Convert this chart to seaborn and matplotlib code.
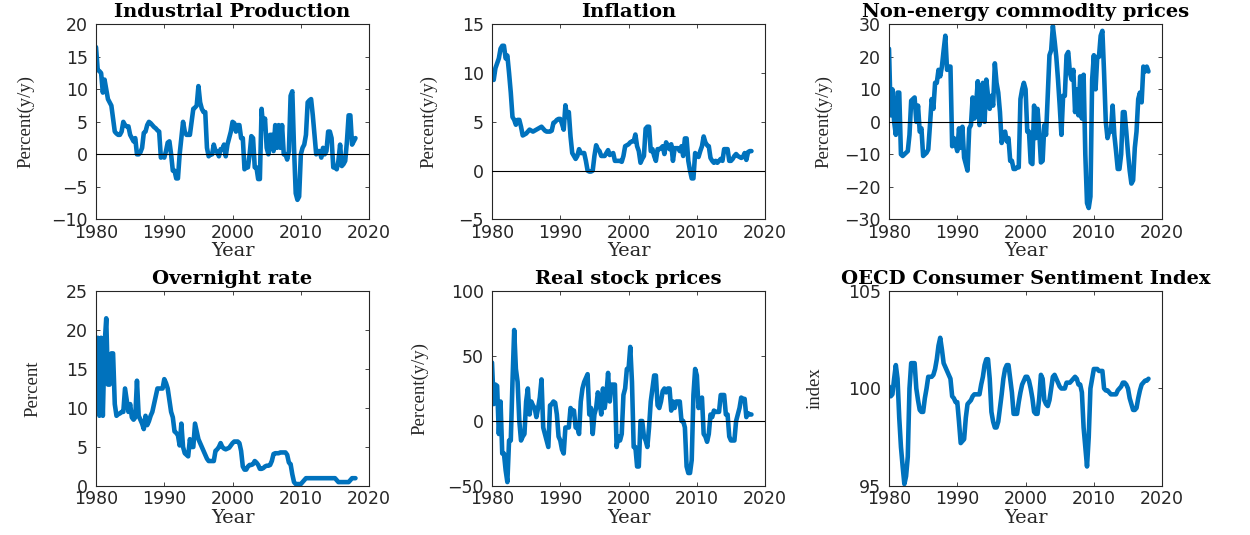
import numpy as np
import pandas as pd
import matplotlib
matplotlib.use("Agg")
import matplotlib.pyplot as plt
import seaborn as sns

# Quarterly observations, 1980Q1 through 2018Q1
start_year = 1980
periods_per_year = 4

industrial_production = [
    16.5, 13.0, 12.8, 12.5,   9.5, 11.5, 10.0, 8.5,    8.0, 7.5, 5.5, 3.5,
    3.2, 3.0, 3.0, 3.5,       5.0, 4.5, 4.3, 4.3,     3.0, 2.5, 2.0, 2.5,
    0.0, 0.0, 0.3, 1.0,       3.3, 3.5, 4.5, 5.0,     4.8, 4.5, 4.2, 4.0,
    3.7, 3.5, -0.5, -0.3,     -0.5, 0.5, 1.8, 2.0,    0.0, -2.5, -2.5, -3.7,
    -3.7, 0.0, 2.5, 5.0,      3.5, 3.0, 3.0, 3.0,     5.0, 7.0, 7.2, 7.5,
    10.5, 8.0, 7.0, 6.5,      6.5, 1.0, -0.3, 0.0,    0.0, 1.5, 0.5, 0.5,
    -0.3, 0.8, 0.8, 1.5,      -0.3, 1.5, 2.5, 3.5,    5.0, 4.8, 3.5, 4.5,
    4.5, 2.5, 2.5, -2.3,      -2.0, -2.0, 0.0, 2.8,   2.5, -2.0, -2.0, -3.8,
    -3.8, 7.0, 4.0, 5.5,      1.0, 0.0, 3.0, 3.0,     0.5, 4.5, 1.0, 4.5,
    1.0, 4.5, 0.0, 0.0,       -0.8, 0.5, 9.0, 9.7,    1.0, -6.0, -7.0, -6.5,
    0.0, 1.0, 1.5, 3.0,       8.0, 8.3, 8.5, 6.0,     3.0, 0.0, 0.5, 0.5,
    -0.5, 1.0, 0.0, 0.5,      3.5, 3.5, 2.5, -2.0,    -2.0, -2.3, -1.0, 1.5,
    -1.8, -1.5, -1.0, 2.0,    6.0, 6.0, 1.5, 2.0,     2.5,
]

inflation = [
    9.5, 9.3, 10.5, 11.0,     11.5, 12.5, 12.8, 12.8,  11.5, 11.8, 10.0, 8.0,
    5.5, 5.2, 4.7, 5.2,       5.2, 4.5, 3.6, 3.7,      3.8, 4.0, 4.2, 4.1,
    4.0, 4.1, 4.2, 4.3,       4.4, 4.5, 4.3, 4.1,      4.0, 4.0, 4.0, 4.1,
    4.9, 5.0, 5.2, 5.3,       5.3, 4.8, 4.2, 6.7,      5.5, 6.0, 3.5, 1.8,
    1.5, 1.2, 1.5, 2.2,       1.8, 1.8, 1.8, 1.0,      0.0, -0.1, -0.1, 0.0,
    1.5, 2.6, 2.2, 2.0,       1.5, 1.5, 1.5, 1.8,      2.1, 1.6, 1.7, 1.8,
    1.0, 1.0, 1.0, 1.0,       0.9, 1.5, 2.5, 2.6,      2.7, 2.9, 3.0, 3.0,
    3.7, 2.5, 2.0, 0.8,       1.2, 1.5, 4.3, 4.5,      4.5, 2.0, 2.2, 1.5,
    1.0, 2.2, 2.2, 2.3,       2.5, 1.7, 2.9, 2.5,      2.2, 2.7, 1.0, 2.3,
    2.3, 2.3, 2.0, 2.5,       1.5, 3.3, 3.3, 1.0,      0.0, -0.8, -0.8, 1.8,
    1.6, 1.4, 2.0, 2.5,       3.5, 2.9, 2.6, 2.5,      1.3, 1.0, 0.8, 1.0,
    0.8, 1.0, 1.2, 1.0,       2.2, 2.2, 2.2, 1.0,      1.0, 1.2, 1.5, 1.7,
    1.5, 1.4, 1.3, 1.4,       1.8, 1.1, 1.9, 2.0,      2.0,
]

commodity_prices = [
    22.5, 2.0, 10.0, 0.0,     -4.0, 9.0, 9.0, -10.0,   -10.5, -10.0, -9.5, -9.0,
    -4.0, 6.5, 7.0, 7.5,      0.0, 5.0, -3.0, -2.0,    -10.5, -10.0, -9.5, -8.5,
    -1.0, 7.0, 4.0, 12.0,     12.0, 16.0, 14.0, 17.0,  22.0, 26.5, 16.0, 17.0,
    17.0, -7.5, -5.0, -7.0,   -9.0, -2.0, -8.0, -1.5,  -11.0, -13.0, -15.0, -2.0,
    -1.0, 7.5, 1.0, 5.0,      12.5, -1.0, 5.0, 12.0,   0.0, 13.0, 8.0, 4.0,
    8.0, 5.0, 18.0, 12.0,     9.0, 3.0, -6.5, -4.0,    -3.0, -6.0, -5.0, -12.0,
    -12.0, -14.5, -14.5, -14.0, -14.0, 7.0, 10.0, 12.0, 10.0, -3.0, -3.0, -12.5,
    -13.0, 5.0, -5.0, 4.0,    -3.0, -12.5, -12.0, -1.0, -4.0, 8.0, 20.5, 22.0,
    29.5, 25.0, 20.0, 13.0,   5.0, -4.0, 8.0, 8.0,     20.5, 21.5, 15.0, 13.0,
    16.0, 3.0, 10.0, 2.0,     14.0, 1.0, 14.5, -10.0,  -25.0, -26.5, -23.0, 13.0,
    20.5, 10.0, 20.0, 20.0,   26.5, 28.0, 15.0, 0.0,   -5.0, -3.0, -3.0, 5.0,
    -4.0, -9.0, -14.5, -14.5, -10.0, 3.0, 3.0, -3.0,   -9.5, -15.0, -19.0, -18.0,
    -8.0, -3.0, 7.0, 9.0,     6.0, 17.0, 15.5, 17.0,   15.5,
]

overnight_rate = [
    13.5, 19.0, 9.0, 19.0,    9.0, 18.0, 21.5, 13.0,   13.0, 17.0, 17.0, 10.5,
    9.0, 9.2, 9.3, 9.5,       9.5, 12.5, 11.0, 9.5,    10.5, 8.8, 8.5, 8.8,
    13.5, 9.0, 8.5, 8.0,      7.3, 9.0, 7.8, 8.3,      9.0, 9.5, 10.5, 11.5,
    12.5, 12.5, 12.5, 12.5,   13.7, 13.2, 12.5, 11.0,  9.5, 8.8, 7.0, 6.8,
    6.5, 5.2, 8.0, 5.0,       4.2, 4.0, 3.8, 6.0,      5.0, 5.0, 8.0, 7.0,
    6.0, 5.5, 5.0, 4.5,       4.0, 3.5, 3.2, 3.2,      3.2, 3.2, 4.5, 4.7,
    5.0, 5.5, 5.0, 4.8,       4.7, 4.8, 4.9, 5.2,      5.5, 5.7, 5.7, 5.7,
    5.5, 4.5, 2.5, 2.1,       2.1, 2.5, 2.7, 2.7,      2.8, 3.2, 3.0, 2.7,
    2.2, 2.2, 2.3, 2.5,       2.6, 2.6, 2.7, 3.2,      4.1, 4.2, 4.2, 4.2,
    4.3, 4.3, 4.3, 4.3,       4.0, 3.0, 2.8, 1.5,      0.5, 0.25, 0.25, 0.25,
    0.25, 0.5, 0.75, 1.0,     1.0, 1.0, 1.0, 1.0,      1.0, 1.0, 1.0, 1.0,
    1.0, 1.0, 1.0, 1.0,       1.0, 1.0, 1.0, 1.0,      1.0, 0.75, 0.5, 0.5,
    0.5, 0.5, 0.5, 0.5,       0.5, 0.75, 1.0, 1.0,     1.0,
]

real_stock_prices = [
    45, 13, 28, 27,           -10, 15, -25, -25,       -38, -47, -15, -15,
    30, 70, 40, 30,           0, -15, -12, -10,        15, 25, 5, 15,
    12, 10, 3, 10,            18, 32, -5, -10,         -15, -20, 12, 13,
    15, 14, 5, -12,           -15, -22, -25, -5,       -5, -5, 10, 8,
    8, -5, -5, -10,           15, 25, 30, 33,          36, 5, 10, -10,
    5, 10, 22, 15,            5, 25, 10, 20,           37, 15, 28, 28,
    28, -20, -12, -15,        -10, 20, 25, 40,         40, 57, 30, -20,
    -20, -35, -35, 0,         0, -12, -15, -20,        -5, 15, 25, 35,
    35, 12, 10, 15,           23, 25, 22, 25,          25, 8, 15, 10,
    15, 15, 15, 0,            0, -5, -35, -40,         -40, -30, 20, 40,
    35, 10, 15, 18,           -10, -12, -16, -10,      5, 3, 8, 7,
    7, 7, 20, 20,             20, 5, 5, -12,           -15, -15, -15, 0,
    5, 10, 18, 17,            17, 3, 6, 5,             5,
]

consumer_sentiment = [
    100.1, 99.6, 99.7, 100.5,  101.2, 100.5, 98.5, 97.0,  96.0, 95.1, 95.5, 96.5,
    100.0, 101.3, 101.3, 101.3, 100.0, 99.4, 98.9, 98.8, 98.8, 99.5, 100.0, 100.6,
    100.6, 100.6, 100.7, 101.0, 101.5, 102.2, 102.6, 102.0, 101.3, 101.1, 100.9, 100.7,
    100.5, 99.6, 99.5, 99.3,   99.3, 98.3, 97.2, 97.3,    97.4, 98.5, 99.2, 99.3,
    99.4, 99.6, 99.7, 99.7,    99.7, 99.7, 100.2, 100.6,  101.2, 101.5, 101.5, 100.5,
    98.8, 98.3, 98.0, 98.0,    98.3, 99.0, 99.7, 100.5,   101.0, 101.2, 101.2, 100.5,
    99.8, 98.7, 98.7, 98.7,    99.3, 99.8, 100.2, 100.4,  100.6, 100.6, 100.4, 100.0,
    99.5, 98.8, 98.7, 98.7,    99.5, 100.7, 100.5, 99.4,  99.2, 99.1, 99.4, 100.0,
    100.6, 100.7, 100.5, 100.3, 100.1, 100.0, 100.0, 100.0, 100.3, 100.3, 100.3, 100.4,
    100.5, 100.6, 100.5, 100.2, 100.2, 99.8, 98.0, 97.0,  96.0, 97.5, 100.0, 100.5,
    101.0, 101.0, 101.0, 100.9, 100.9, 100.9, 100.0, 99.9, 99.9, 99.8, 99.7, 99.7,
    99.7, 99.7, 99.9, 100.0,   100.1, 100.3, 100.3, 100.2, 100.0, 99.5, 99.2, 98.9,
    98.9, 99.0, 99.5, 99.9,    100.2, 100.3, 100.4, 100.4, 100.5,
]

titles = ["Industrial Production", "Inflation", "Non-energy commodity prices",
          "Overnight rate", "Real stock prices", "OECD Consumer Sentiment Index"]
ylabels = ["Percent(y/y)", "Percent(y/y)", "Percent(y/y)",
           "Percent", "Percent(y/y)", "index"]
y_ranges = [(-10, 20, 5), (-5, 15, 5), (-30, 30, 10),
            (0, 25, 5), (-50, 100, 50), (95, 105, 5)]
zero_line = [True, True, True, False, True, False]
x_ticks = [1980, 1990, 2000, 2010, 2020]
x_label = "Year"

series = [industrial_production, inflation, commodity_prices,
          overnight_rate, real_stock_prices, consumer_sentiment]

n_obs = len(industrial_production)
frame = pd.DataFrame({"year": start_year + np.arange(n_obs) / periods_per_year})
for name, values in zip(titles, series):
    frame[name] = values

# ---- styling ----
sns.set_style("ticks")
INK = "#262626"
BLUE = "#0072BD"
plt.rcParams.update({
    "font.family": ["DejaVu Sans"],
    "axes.edgecolor": INK,
    "axes.linewidth": 0.8,
    "xtick.color": INK,
    "ytick.color": INK,
    "xtick.labelcolor": INK,
    "ytick.labelcolor": INK,
    "xtick.direction": "in",
    "ytick.direction": "in",
    "xtick.major.size": 3,
    "ytick.major.size": 3,
    "xtick.major.width": 0.6,
    "ytick.major.width": 0.6,
    "xtick.top": True,
    "ytick.right": True,
    "xtick.labelsize": 12.5,
    "ytick.labelsize": 12.5,
    "xtick.major.pad": 3,
    "ytick.major.pad": 6,
})

fig = plt.figure(figsize=(12.5, 5.35), dpi=100)

# axes rectangles in figure fraction: [left, bottom, width, height]
col_left = [0.0768, 0.3936, 0.7112]
row_bottom = [0.590, 0.0916]
ax_w, ax_h = 0.2185, 0.3645
# horizontal placement of each y-axis label (axes fraction, right edge of text)
ylabel_x = [-0.224, -0.20, -0.208, -0.20, -0.234, -0.24]

title_font = dict(family="DejaVu Serif", fontsize=14, fontweight="bold", color="black")
xlabel_font = dict(family="DejaVu Serif", fontsize=14, color=INK)
ylabel_font = dict(family="Liberation Serif", fontsize=13.5, color=INK)

for i, name in enumerate(titles):
    r, c = divmod(i, 3)
    ax = fig.add_axes([col_left[c], row_bottom[r], ax_w, ax_h])
    sns.lineplot(data=frame, x="year", y=name, ax=ax, color=BLUE,
                 linewidth=3.3, solid_joinstyle="round", solid_capstyle="round",
                 zorder=2)
    lo, hi, step = y_ranges[i]
    if zero_line[i]:
        ax.axhline(0, color="black", linewidth=0.8, zorder=3)
    ax.set_xlim(x_ticks[0], x_ticks[-1])
    ax.set_ylim(lo, hi)
    ax.set_xticks(x_ticks)
    ax.set_yticks(np.arange(lo, hi + step / 2, step))
    ax.set_title(name, pad=5, **title_font)
    ax.set_xlabel(x_label, labelpad=0.5, **xlabel_font)
    ax.set_ylabel(ylabels[i], **ylabel_font)
    ax.yaxis.set_label_coords(ylabel_x[i], 0.5)
    for s in ax.spines.values():
        s.set_visible(True)

fig.savefig("out.png", dpi=100, facecolor="white")
